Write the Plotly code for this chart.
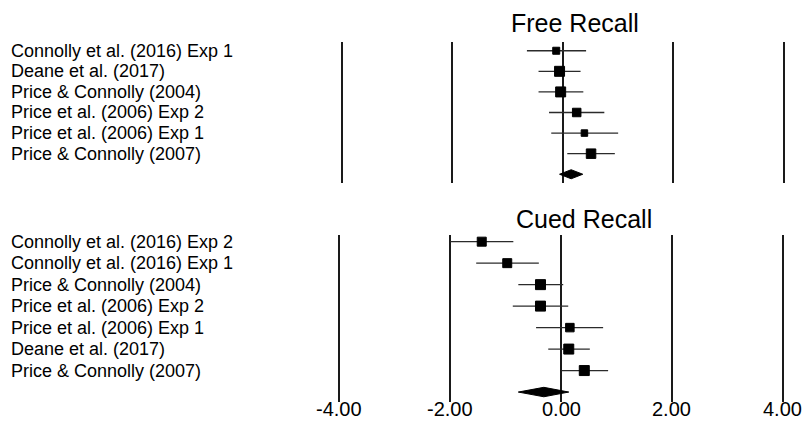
import plotly.graph_objects as go

# Free recall studies: Hedges' g with 95% CI
free_studies = ["Connolly et al. (2016) Exp 1", "Deane et al. (2017)",
                "Price & Connolly (2004)", "Price et al. (2006) Exp 2",
                "Price et al. (2006) Exp 1", "Price & Connolly (2007)"]
free_g = [-0.12, -0.06, -0.04, 0.25, 0.39, 0.51]
free_lo = [-0.65, -0.44, -0.44, -0.25, -0.21, 0.08]
free_hi = [0.42, 0.32, 0.37, 0.75, 1.00, 0.94]
free_size = [7, 10, 10, 8.5, 6.5, 9.5]
free_summary = {"g": 0.15, "lo": -0.06, "hi": 0.36}

# Cued recall studies
cued_studies = ["Connolly et al. (2016) Exp 2", "Connolly et al. (2016) Exp 1",
                "Price & Connolly (2004)", "Price et al. (2006) Exp 2",
                "Price et al. (2006) Exp 1", "Deane et al. (2017)",
                "Price & Connolly (2007)"]
cued_g = [-1.43, -0.97, -0.37, -0.37, 0.16, 0.14, 0.42]
cued_lo = [-2.00, -1.53, -0.77, -0.87, -0.45, -0.23, 0.01]
cued_hi = [-0.86, -0.40, 0.04, 0.13, 0.76, 0.52, 0.85]
cued_size = [9, 9, 10, 10, 8.5, 10, 10]
cued_summary = {"g": -0.31, "lo": -0.77, "hi": 0.14}

tick_vals = [-4, -2, 0, 2, 4]
tick_labels = ["-4.00", "-2.00", "0.00", "2.00", "4.00"]

FONT = "Arial, Liberation Sans, sans-serif"
W, H = 809, 421

fig = go.Figure()


def add_panel(studies, g, lo, hi, sizes, summary, xa, ya):
    rows = list(range(1, len(studies) + 1))
    fig.add_trace(go.Scatter(
        x=g, y=rows, mode="markers", xaxis=xa, yaxis=ya,
        marker=dict(symbol="square", size=sizes, color="black", opacity=1,
                    line=dict(color="black", width=1)),
        error_x=dict(type="data", symmetric=False,
                     array=[h - v for h, v in zip(hi, g)],
                     arrayminus=[v - l for v, l in zip(g, lo)],
                     color="#2b2b2b", thickness=1.3, width=0),
        showlegend=False, hoverinfo="skip"))
    srow = len(studies) + 1
    hh = 0.22
    fig.add_trace(go.Scatter(
        x=[summary["lo"], summary["g"], summary["hi"], summary["g"], summary["lo"]],
        y=[srow, srow - hh, srow, srow + hh, srow],
        mode="lines", fill="toself", fillcolor="black",
        line=dict(color="black", width=1), xaxis=xa, yaxis=ya,
        showlegend=False, hoverinfo="skip"))
    for r, name in zip(rows, studies):
        fig.add_annotation(x=10 / W, xref="paper", xanchor="left",
                           y=r, yref=ya, yanchor="middle", text=name,
                           showarrow=False, borderpad=0,
                           font=dict(family=FONT, size=18, color="black"))


add_panel(free_studies, free_g, free_lo, free_hi, free_size, free_summary, "x", "y")
add_panel(cued_studies, cued_g, cued_lo, cued_hi, cued_size, cued_summary, "x2", "y2")

# Effect-size scale labels under the lower panel
for v, t in zip(tick_vals, tick_labels):
    fig.add_annotation(x=v, xref="x2", xanchor="center",
                       y=0, yref="paper", yanchor="bottom",
                       text=t, showarrow=False, borderpad=0,
                       font=dict(family=FONT, size=20, color="black"))

grid = dict(showgrid=True, gridcolor="#1a1a1a", gridwidth=2, zeroline=False,
            showline=False, ticks="", tickvals=tick_vals, range=[-4.2, 4.2],
            fixedrange=True, automargin=False, showticklabels=False)
yax = dict(showgrid=False, zeroline=False, showticklabels=False,
           automargin=False, fixedrange=True)

fig.update_layout(
    width=W, height=H,
    margin=dict(l=0, r=0, t=0, b=0, pad=0),
    paper_bgcolor="white", plot_bgcolor="white",
    xaxis=dict(**grid, domain=[0.4087, 0.9828], anchor="y"),
    yaxis=dict(**yax, domain=[0.5646, 0.9010], range=[7.44, 0.56], anchor="x"),
    xaxis2=dict(**grid, domain=[0.4057, 0.9812], anchor="y2"),
    yaxis2=dict(**yax, domain=[0.0458, 0.4418], range=[8.45, 0.69], anchor="x2"),
    annotations=list(fig.layout.annotations) + [
        dict(text="Free Recall", x=575 / W, xref="paper", xanchor="center",
             y=1 - 23.5 / H, yref="paper", yanchor="middle", showarrow=False,
             font=dict(family=FONT, size=25, color="black")),
        dict(text="Cued Recall", x=584 / W, xref="paper", xanchor="center",
             y=1 - 219 / H, yref="paper", yanchor="middle", showarrow=False,
             font=dict(family=FONT, size=25, color="black")),
    ],
)

fig.write_html("out.html")
